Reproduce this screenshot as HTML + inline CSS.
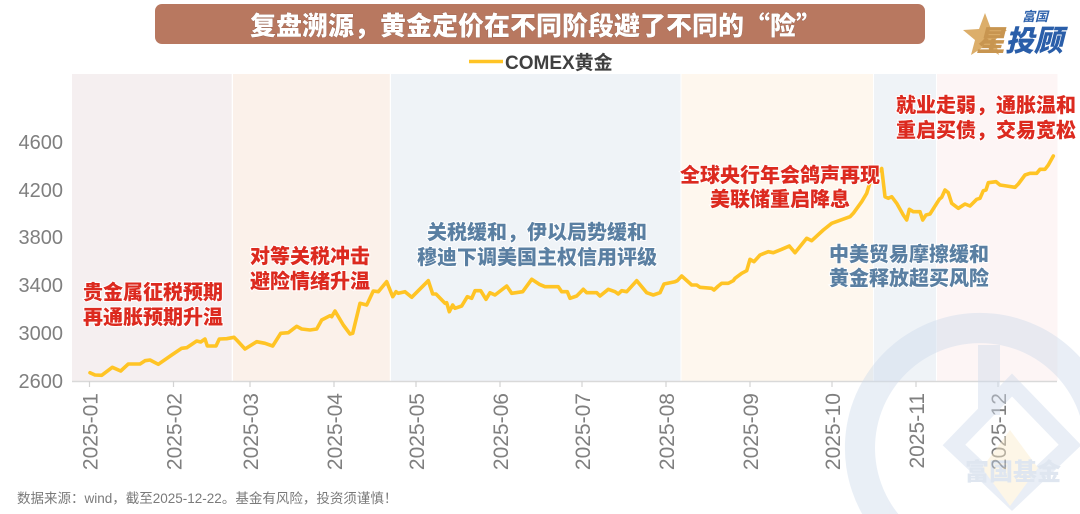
<!DOCTYPE html>
<html><head><meta charset="utf-8"><style>
html,body{margin:0;padding:0;background:#fff;width:1080px;height:514px;overflow:hidden;}
svg{display:block;}
.cjk{font-family:"Noto Sans CJK SC","WenQuanYi Zen Hei",sans-serif;}
.lat{font-family:"Liberation Sans","Noto Sans CJK SC",sans-serif;}
</style></head><body>
<svg width="1080" height="514" viewBox="0 0 1080 514" xmlns="http://www.w3.org/2000/svg" overflow="hidden">
<rect width="1080" height="514" fill="#fff"/>
<!-- title banner -->
<rect x="155" y="4" width="770" height="40" rx="7" fill="#b87860"/>
<text x="536" y="35" text-anchor="middle" class="cjk" font-size="26" font-weight="900" fill="#fff" stroke="#8a5340" stroke-width="0.6" paint-order="stroke">复盘溯源，黄金定价在不同阶段避了不同的“险”</text>
<!-- logo -->
<polygon points="985,13 991,29 1007,30 995,40 999,55 985,46 971,55 975,40 963,30 979,29" fill="#dcae6a"/>
<text x="1022" y="21" class="cjk" font-size="13" font-weight="700" font-style="italic" fill="#2f63ad">富国</text>
<text x="976" y="51" class="cjk" font-size="29" font-weight="900" font-style="italic" fill="#c89550">星</text>
<text x="1005" y="51" class="cjk" font-size="29" font-weight="900" font-style="italic" fill="#2a5ea9">投顾</text>
<!-- legend -->
<line x1="469" y1="61.5" x2="503" y2="61.5" stroke="#ffc425" stroke-width="3.6"/>
<text x="505" y="69" class="lat" font-size="19" font-weight="700" fill="#404040">COMEX黄金</text>
<!-- bands -->
<rect x="72" y="74" width="159.7" height="307" fill="#f5eff0"/>
<rect x="233" y="74" width="156.8" height="307" fill="#fbf1ea"/>
<rect x="391" y="74" width="289.5" height="307" fill="#eff3f7"/>
<rect x="681.5" y="74" width="191.5" height="307" fill="#fef7ee"/>
<rect x="874" y="74" width="62" height="307" fill="#eff3f7"/>
<rect x="937" y="74" width="120.5" height="307" fill="#fdf5f5"/>
<!-- axis -->
<line x1="72" y1="381.5" x2="1057" y2="381.5" stroke="#d9d9d9" stroke-width="1.5"/>
<g stroke="#d3d3d3" stroke-width="1.2">
<line x1="89.5" y1="381" x2="89.5" y2="387"/>
<line x1="173.5" y1="381" x2="173.5" y2="387"/>
<line x1="250" y1="381" x2="250" y2="387"/>
<line x1="334" y1="381" x2="334" y2="387"/>
<line x1="416" y1="381" x2="416" y2="387"/>
<line x1="500" y1="381" x2="500" y2="387"/>
<line x1="582" y1="381" x2="582" y2="387"/>
<line x1="666" y1="381" x2="666" y2="387"/>
<line x1="750" y1="381" x2="750" y2="387"/>
<line x1="832" y1="381" x2="832" y2="387"/>
<line x1="916" y1="381" x2="916" y2="387"/>
<line x1="998" y1="381" x2="998" y2="387"/>
</g>
<!-- y labels -->
<g class="lat" font-size="20" fill="#7f7f7f" text-anchor="end">
<text x="63" y="149">4600</text>
<text x="63" y="197">4200</text>
<text x="63" y="244">3800</text>
<text x="63" y="292">3400</text>
<text x="63" y="340">3000</text>
<text x="63" y="388">2600</text>
</g>
<!-- x labels -->
<g class="lat" font-size="21" fill="#7f7f7f" text-anchor="end">
<text transform="translate(97.5,393) rotate(-90)">2025-01</text>
<text transform="translate(181.5,393) rotate(-90)">2025-02</text>
<text transform="translate(258,393) rotate(-90)">2025-03</text>
<text transform="translate(342,393) rotate(-90)">2025-04</text>
<text transform="translate(424,393) rotate(-90)">2025-05</text>
<text transform="translate(508,393) rotate(-90)">2025-06</text>
<text transform="translate(590,393) rotate(-90)">2025-07</text>
<text transform="translate(674,393) rotate(-90)">2025-08</text>
<text transform="translate(758,393) rotate(-90)">2025-09</text>
<text transform="translate(840,393) rotate(-90)">2025-10</text>
<text transform="translate(924,393) rotate(-90)">2025-11</text>
<text transform="translate(1006,393) rotate(-90)">2025-12</text>
</g>
<!-- series -->
<polyline fill="none" stroke="#ffc425" stroke-width="3.6" stroke-linejoin="round" stroke-linecap="round" points="
90,372.7 95,375 101.7,375.3 112.3,367.3 120.7,371 128.3,364 140,364 145,360.7 150,360 158.3,364.3 171.7,355 181.7,348.3 186.7,347.7 196.7,341 200.7,342 205,339 207.3,346 216,346 219.3,339 226.7,338.7 234,337.3 236.7,340 245,349 256.7,341.7 265,343.3 272.7,346 280.7,333.3 288.3,332.7 296.7,326.3 301.7,329 310,330 316.7,329 321.7,320 330,315.7 331.7,316.7 335,311 343.3,325 350,334 352.7,333.3 360,303.3 366.7,305 373.3,291 378.3,291.7 386.7,281.7
392.7,296.7 396,291.7 398.3,293.3 405,291.7 411.7,297.3 428.3,280.7 432.7,294 436,294 445,303.3 446.7,302.7 449.3,311.7 452.7,305 455,308.3 461.7,306 467.3,296.7 471.7,298.3 475,290.7 480.7,290.7 486,299.3 490,292.7 495,295 506.7,286 511.7,293.3 522.7,291.7 531.7,279.3 539.3,284.3 545,286.7 558.3,286.7 561.7,291.7 567.3,291.7 570,298.3 576.7,296 583.3,289.3 586.7,292.7 596.7,292.7 600,296 608.3,289.3 615,291.7 618.3,294 621.7,290.7 626.7,291.7 636.7,280.7 646.7,292.7 653.3,295 660,292.7 664,284 675,281.7 677.3,280.7 681.7,276 691.7,285 696.7,285 700,287.3
711.7,288.3 714,290 718.3,286 721.7,283.3 728.3,283.3 733.3,280.7 735,278.3 741.7,273.3 746.7,270.7 750,259.3 754,261.7 760,255 768.3,251.7 773.3,252.7 781.7,249.3 789.3,246 795,252.7 806.7,238.3 811.7,240.7 823.3,230 831.7,223.3 850,216.7 853.3,213.3 861.7,201.7 866.7,193.3 871.7,176.7 876.7,173.3 881.7,168.5
885,196.7 888.3,198.3 891.7,196.7 896.7,203.3 903.3,215 906.7,220 909.3,209.3 913.3,211.7 920,211.7 922.7,220 926,215 930,214 939.3,199.3 941.7,197.3 945,190 948.3,192.7 951.7,203.3 958.3,208.3 965,204 970,206 976.7,199.3 980,198.3 983.3,190.7 986,190 988.3,182.7 996,181.7 1000,185 1006.7,186 1015,187.3 1018.3,184 1025,175 1030,173.3 1036.7,173.3 1040,169.3 1045,169.3 1048.3,165 1053.3,156"/>
<!-- annotations -->
<g class="cjk" font-size="20" font-weight="900" stroke="#fff" stroke-width="2" paint-order="stroke">
<g fill="#dc2a1f">
<text x="83" y="299">贵金属征税预期</text>
<text x="83" y="324">再通胀预期升温</text>
<text x="250" y="263">对等关税冲击</text>
<text x="250" y="288">避险情绪升温</text>
<text x="780" y="182" text-anchor="middle">全球央行年会鸽声再现</text>
<text x="780" y="206" text-anchor="middle">美联储重启降息</text>
<text x="896" y="112">就业走弱，通胀温和</text>
<text x="896" y="137">重启买债，交易宽松</text>
</g>
<g fill="#5a7fa2">
<text x="537" y="239" text-anchor="middle">关税缓和，伊以局势缓和</text>
<text x="537" y="264" text-anchor="middle">穆迪下调美国主权信用评级</text>
<text x="829" y="261">中美贸易摩擦缓和</text>
<text x="829" y="285">黄金释放超买风险</text>
</g>
</g>
<!-- watermark -->
<g opacity="0.45">
<path d="M862.2 514 A135 135 0 0 1 1080 357.3 L1080 416 A105 105 0 1 0 898.3 514 Z" fill="#cfdbec"/>
<polygon points="1012,385 1070,445 1012,500 954,445" fill="none" stroke="#cfdbec" stroke-width="16"/>
<rect x="978" y="345" width="22" height="70" fill="#cfdbec"/>
<polygon points="1010,430 1038,468 1010,506 982,468" fill="#fbeccb"/>
<text x="1013" y="480" text-anchor="middle" class="cjk" font-size="24" font-weight="900" fill="#b9cae0">富国基金</text>
</g>
<!-- footer -->
<text x="17" y="503" class="lat" font-size="13.5" fill="#7a7a7a">数据来源：wind，截至2025-12-22。基金有风险，投资须谨慎！</text>
</svg>
</body></html>
